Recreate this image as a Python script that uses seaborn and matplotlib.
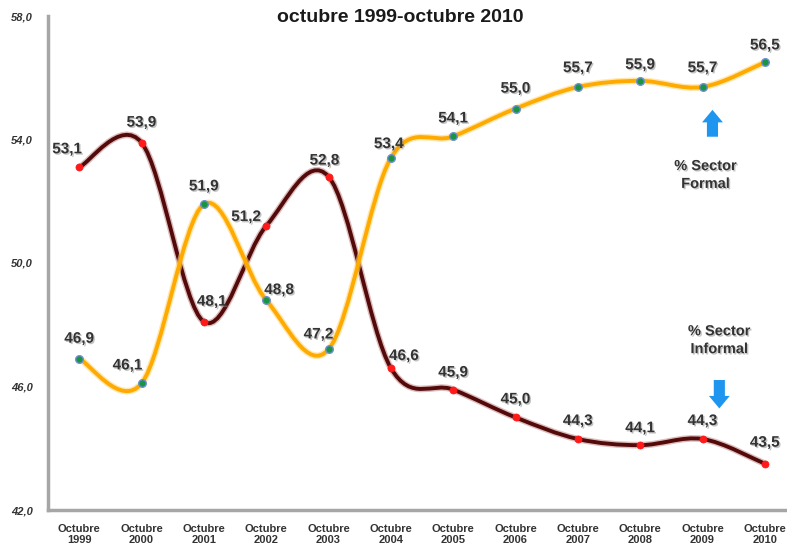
import numpy as np
import matplotlib
matplotlib.use("Agg")
import matplotlib.pyplot as plt
import matplotlib.patheffects as pe
from matplotlib.path import Path
from matplotlib.patches import PathPatch
import seaborn as sns


# ==========================
# Data
# ==========================

years = ["1999", "2000", "2001", "2002", "2003", "2004",
         "2005", "2006", "2007", "2008", "2009", "2010"]
x_labels = [f"Octubre\n{y}" for y in years]

formal = [46.9, 46.1, 51.9, 48.8, 47.2, 53.4, 54.1, 55.0, 55.7, 55.9, 55.7, 56.5]
informal = [53.1, 53.9, 48.1, 51.2, 52.8, 46.6, 45.9, 45.0, 44.3, 44.1, 44.3, 43.5]

y_ticks = [42, 46, 50, 54, 58]
title = "octubre 1999-octubre 2010"
formal_name = "% Sector\nFormal"
informal_name = "% Sector\nInformal"


# ==========================
# Style
# ==========================

sns.set_style("white")
plt.rcParams["font.family"] = ["Liberation Sans", "DejaVu Sans"]

FORMAL_LINE = "#FFAA00"
FORMAL_HALO = "#FFD77A"
FORMAL_MARK = "#1A9440"
INFORMAL_LINE = "#520A0A"
INFORMAL_HALO = "#C89090"
INFORMAL_MARK = "#FF1A1A"
TEXT = "#333333"
ARROW = "#1E96F0"

# label offsets in pixels (dx, dy)
formal_off = [(0, 20), (-14, 18), (0, 18), (13, 10), (-10, 15), (-2, 14),
              (0, 18), (0, 20), (0, 19), (0, 16), (0, 19), (0, 17)]
informal_off = [(-12, 18), (0, 20), (8, 20), (-20, 9), (-4, 16), (13, 12),
                (0, 17), (0, 18), (0, 18), (0, 17), (0, 18), (0, 21)]


def smooth_path(xs, ys):
    # excel-like smoothed line (catmull-rom as bezier)
    pts = np.column_stack([xs, ys]).astype(float)
    ext = np.vstack([pts[0], pts, pts[-1]])
    verts = [pts[0]]
    codes = [Path.MOVETO]
    for i in range(len(pts) - 1):
        p0, p1, p2, p3 = ext[i], ext[i + 1], ext[i + 2], ext[i + 3]
        verts += [p1 + (p2 - p0) / 6, p2 - (p3 - p1) / 6, p2]
        codes += [Path.CURVE4] * 3
    return Path(verts, codes)


# ==========================
# Plot
# ==========================

fig = plt.figure(figsize=(7.87, 5.49), dpi=100)
ax = fig.add_axes([48 / 787, 39 / 549, 748 / 787, 494 / 549])

idx = np.arange(len(years))

for vals, col, halo, z in [(formal, FORMAL_LINE, FORMAL_HALO, 3),
                           (informal, INFORMAL_LINE, INFORMAL_HALO, 2)]:
    patch = PathPatch(
        smooth_path(idx, vals),
        fill=False,
        edgecolor=col,
        lw=2.8,
        capstyle="round",
        zorder=z,
        path_effects=[pe.Stroke(linewidth=4.8, foreground=halo, alpha=0.6),
                      pe.Normal()]
    )
    ax.add_patch(patch)

sns.scatterplot(x=idx, y=formal, color=FORMAL_MARK, edgecolor="#6F8FD8",
                s=30, linewidth=1, zorder=5, ax=ax, legend=False)
sns.scatterplot(x=idx, y=informal, color=INFORMAL_MARK, edgecolor=INFORMAL_MARK,
                s=26, linewidth=0.5, zorder=5, ax=ax, legend=False)

shadow = [pe.SimplePatchShadow(offset=(1, -1), shadow_rgbFace="#888888", alpha=0.5),
          pe.Normal()]

for vals, offs in [(formal, formal_off), (informal, informal_off)]:
    for i, (v, (dx, dy)) in enumerate(zip(vals, offs)):
        ax.annotate(
            f"{v:.1f}".replace(".", ","),
            xy=(i, v),
            xytext=(dx, dy),
            textcoords="offset pixels",
            ha="center",
            va="center",
            fontsize=11,
            fontweight="bold",
            color=TEXT,
            zorder=6,
            path_effects=shadow
        )

# series notes with arrows
arrow_style = "simple,head_width=1.5,head_length=0.9,tail_width=0.8"
ax.annotate("", xy=(10.16, 55.05), xytext=(10.16, 54.0),
            arrowprops=dict(arrowstyle=arrow_style, color=ARROW, lw=0))
ax.annotate("", xy=(10.27, 45.2), xytext=(10.27, 46.3),
            arrowprops=dict(arrowstyle=arrow_style, color=ARROW, lw=0))
ax.text(10.05, 52.85, formal_name, ha="center", va="center", fontsize=10.5,
        fontweight="bold", color=TEXT, linespacing=1.35, path_effects=shadow)
ax.text(10.27, 47.5, informal_name, ha="center", va="center", fontsize=10.5,
        fontweight="bold", color=TEXT, linespacing=1.35, path_effects=shadow)

# ==========================
# Axes
# ==========================

ax.set_xlim(-0.5, len(years) - 0.5)
ax.set_ylim(y_ticks[0], y_ticks[-1])

ax.set_xticks(idx)
ax.set_xticklabels(x_labels, fontsize=8, fontweight="bold", color=TEXT,
                   linespacing=1.1)
ax.set_xticks(np.arange(-0.5, len(years)), minor=True)
ax.tick_params(axis="x", which="major", length=0, pad=10)
ax.tick_params(axis="x", which="minor", length=3, width=1, color="#A6A6A6",
               direction="out")

ax.set_yticks(y_ticks)
ax.set_yticklabels([f"{t:.1f}".replace(".", ",") for t in y_ticks],
                   fontsize=8, fontweight="bold", fontstyle="italic", color=TEXT)
ax.tick_params(axis="y", length=3, width=1, color="#A6A6A6", direction="out", pad=8)

sns.despine(ax=ax)
for side in ["left", "bottom"]:
    ax.spines[side].set_color("#A6A6A6")
    ax.spines[side].set_linewidth(2.5)

ax.set_xlabel("")
ax.set_ylabel("")

fig.text(0.508, 0.969, title, ha="center", va="center", fontsize=14,
         fontweight="bold", color="#1A1A1A")

plt.savefig("out.png", dpi=100)
